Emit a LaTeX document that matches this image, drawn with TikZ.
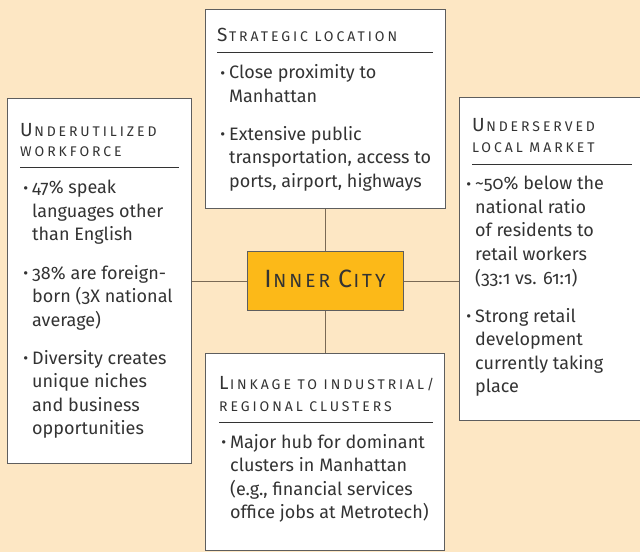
\documentclass[tikz,border=0pt]{standalone}
\usepackage{fontspec}
\setmainfont[Numbers=OldStyle]{Fira Sans}
\definecolor{bgc}{HTML}{FDE7C4}
\definecolor{cityc}{HTML}{FCB918}
\definecolor{boxline}{HTML}{5E5E5E}
\definecolor{connc}{HTML}{7A6A55}
\definecolor{txt}{HTML}{333333}
\newcommand{\fsc}[2]{{\fontsize{19bp}{19bp}\selectfont #1}\hspace{1.5bp}{\fontsize{14bp}{14bp}\selectfont\addfontfeatures{LetterSpace=21}#2}}
\newcommand{\fscs}[1]{{\fontsize{14bp}{14bp}\selectfont\addfontfeatures{LetterSpace=21}#1}}
\newcommand{\bul}[1]{\hbox{\llap{\raisebox{0.5bp}{\fontsize{15bp}{15bp}\selectfont •}\hspace{4bp}}#1}}
\newcommand{\bln}[1]{\hbox{#1}}
\newcommand{\pgap}{\vskip 14.5bp}
\begin{document}
\begin{tikzpicture}[x=1bp,y=-1bp,
  box/.style={draw=boxline, line width=1bp, fill=white, rectangle, inner sep=0pt},
  citybox/.style={draw=boxline, line width=1bp, fill=cityc, rectangle, inner sep=0pt,
    minimum width=156bp, minimum height=58bp, text=txt, text depth=4bp},
  conn/.style={draw=connc, line width=1bp},
  hrulec/.style={draw=txt, line width=0.8bp},
  head/.style={anchor=base west, inner sep=0pt, text=txt},
  body/.style={anchor=base west, inner sep=0pt, text=txt, font=\fontsize{18bp}{23.5bp}\selectfont}]
\fill[bgc] (0,0) rectangle (640,552);
\useasboundingbox (0,0) rectangle (640,552);

% boxes
\node[box, minimum width=240bp, minimum height=198bp] (strat) at (325,109) {};
\node[box, minimum width=183bp, minimum height=364bp] (work) at (99.5,281) {};
\node[box, minimum width=183bp, minimum height=322bp] (market) at (550.5,259) {};
\node[box, minimum width=239bp, minimum height=197bp] (link) at (324.5,451.5) {};
\node[citybox] (city) at (325,281) {{\fontsize{25bp}{25bp}\selectfont I}\hspace{1.5bp}{\fontsize{19bp}{19bp}\selectfont\addfontfeatures{LetterSpace=16}NNER}\hspace{8bp}{\fontsize{25bp}{25bp}\selectfont C}\hspace{1.5bp}{\fontsize{19bp}{19bp}\selectfont\addfontfeatures{LetterSpace=16}ITY}};

% connectors
\draw[conn] (strat.south) -- (city.north);
\draw[conn] (city.south) -- (city.south |- link.north);
\draw[conn] (work.east) -- (city.west);
\draw[conn] (city.east) -- (city.east -| market.west);

% strategic location
\node[head] (strathead) at (217,42) {\fsc{S}{TRATEGIC LOCATION}};
\draw[hrulec] (217,52) -- (433,52);
\node[body] (stratbody) at (229,79) {\vtop{\bul{Close proximity to}\bln{Manhattan}\pgap\bul{Extensive public}\bln{transportation, access to}\bln{ports, airport, highways}}};

% underutilized workforce
\node[head] (workhead) at (20,137) {\vtop{\baselineskip=20bp\hbox{\fsc{U}{NDERUTILIZED}}\hbox{\fscs{WORKFORCE}}}};
\draw[hrulec] (20,167) -- (179,167);
\node[body] (workbody) at (32,194) {\vtop{\bul{47\% speak}\bln{languages other}\bln{than English}\pgap\bul{38\% are foreign-}\bln{born (3X national}\bln{average)}\pgap\bul{Diversity creates}\bln{unique niches}\bln{and business}\bln{opportunities}}};

% underserved local market
\node[head] (markethead) at (472,132) {\vtop{\baselineskip=21bp\hbox{\fsc{U}{NDERSERVED}}\hbox{\fscs{LOCAL MARKET}}}};
\draw[hrulec] (472,164) -- (632,164);
\node[body] (marketbody) at (475,190) {\vtop{\bul{\textasciitilde 50\% below the}\bln{national ratio}\bln{of residents to}\bln{retail workers}\bln{(33:1 vs. 61:1)}\pgap\bul{Strong retail}\bln{development}\bln{currently taking}\bln{place}}};

% linkage
\node[head] (linkhead) at (219,389) {\vtop{\baselineskip=22bp\hbox{\fsc{L}{INKAGE TO INDUSTRIAL/}}\hbox{\fscs{REGIONAL CLUSTERS}}}};
\draw[hrulec] (219,422) -- (433,422);
\node[body] (linkbody) at (230,448) {\vtop{\bul{Major hub for dominant}\bln{clusters in Manhattan}\bln{(e.g., financial services}\bln{office jobs at Metrotech)}}};
\end{tikzpicture}
\end{document}
